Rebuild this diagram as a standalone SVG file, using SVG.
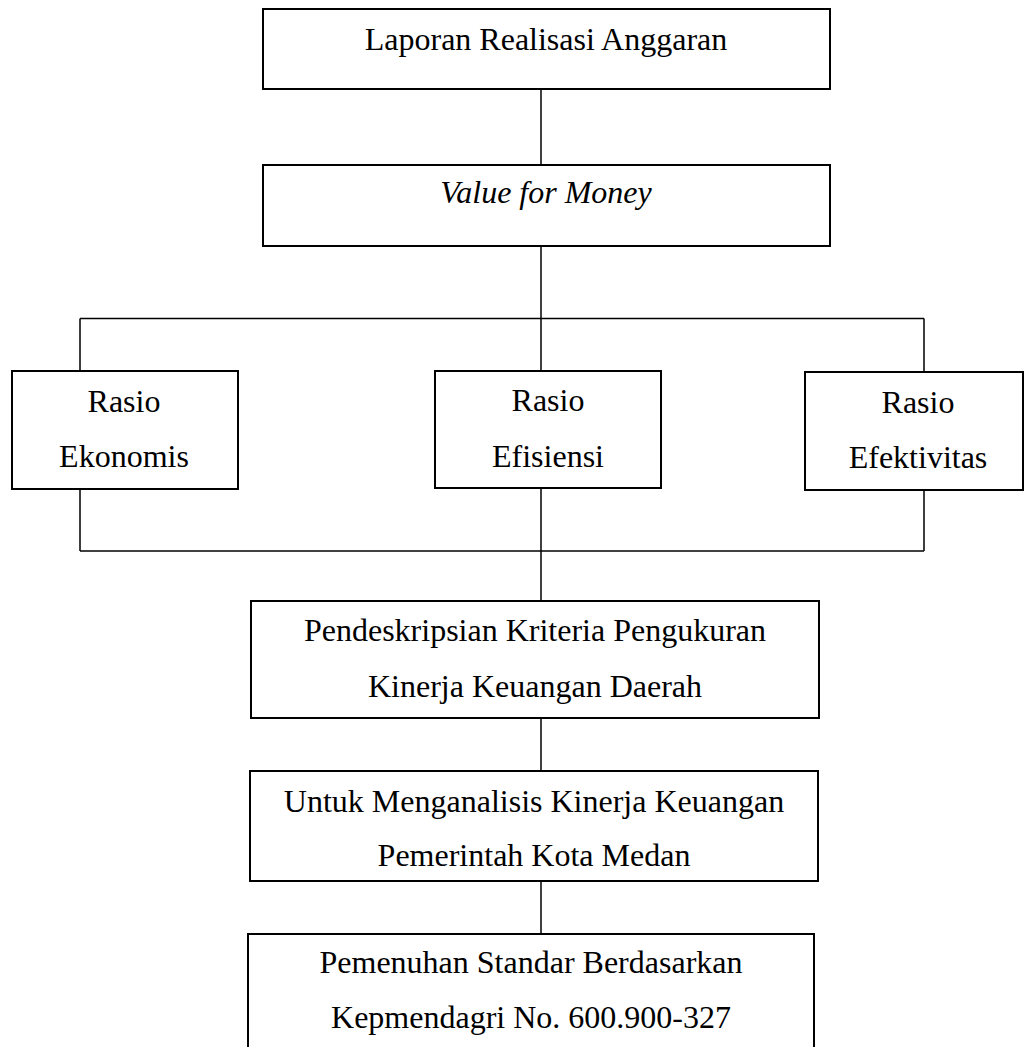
<svg xmlns="http://www.w3.org/2000/svg" width="1024" height="1047" viewBox="0 0 1024 1047">
<style>
.box{fill:#fff;stroke:#000;stroke-width:2}
.ln{fill:none;stroke:#000;stroke-width:1.5}
text{font-family:"Liberation Serif","Times New Roman",serif;font-size:32px;fill:#000;text-anchor:middle}
.it{font-style:italic}
</style>
<rect width="1024" height="1047" fill="#fff"/>
<g id="connectors">
<path class="ln" d="M541 89V165"/>
<path class="ln" d="M541 246V318.5"/>
<path class="ln" d="M80 318.5H924"/>
<path class="ln" d="M80 318.5V371M541 318.5V371M924 318.5V372"/>
<path class="ln" d="M80 489V551M541 488V551M924 490V551"/>
<path class="ln" d="M80 551H924"/>
<path class="ln" d="M541 551V601"/>
<path class="ln" d="M541 718V771"/>
<path class="ln" d="M541 881V934"/>
</g>
<g id="node-lra">
<rect class="box" x="263" y="9" width="567" height="80"/>
<text x="546" y="50">Laporan Realisasi Anggaran</text>
</g>
<g id="node-vfm">
<rect class="box" x="263" y="165" width="567" height="81"/>
<text class="it" x="546" y="203">Value for Money</text>
</g>
<g id="node-ekonomis">
<rect class="box" x="12" y="371" width="226" height="118"/>
<text x="124" y="412">Rasio</text>
<text x="124" y="467">Ekonomis</text>
</g>
<g id="node-efisiensi">
<rect class="box" x="435" y="371" width="226" height="117"/>
<text x="548" y="411">Rasio</text>
<text x="548" y="467">Efisiensi</text>
</g>
<g id="node-efektivitas">
<rect class="box" x="805" y="372" width="218" height="118"/>
<text x="918" y="413">Rasio</text>
<text x="918" y="468">Efektivitas</text>
</g>
<g id="node-pendeskripsian">
<rect class="box" x="251" y="601" width="568" height="117"/>
<text x="535" y="641">Pendeskripsian Kriteria Pengukuran</text>
<text x="535" y="697">Kinerja Keuangan Daerah</text>
</g>
<g id="node-untuk">
<rect class="box" x="250" y="771" width="568" height="110"/>
<text x="534" y="812">Untuk Menganalisis Kinerja Keuangan</text>
<text x="534" y="866">Pemerintah Kota Medan</text>
</g>
<g id="node-pemenuhan">
<rect class="box" x="248" y="934" width="566" height="140"/>
<text x="531" y="973">Pemenuhan Standar Berdasarkan</text>
<text x="531" y="1028">Kepmendagri No. 600.900-327</text>
</g>
</svg>
